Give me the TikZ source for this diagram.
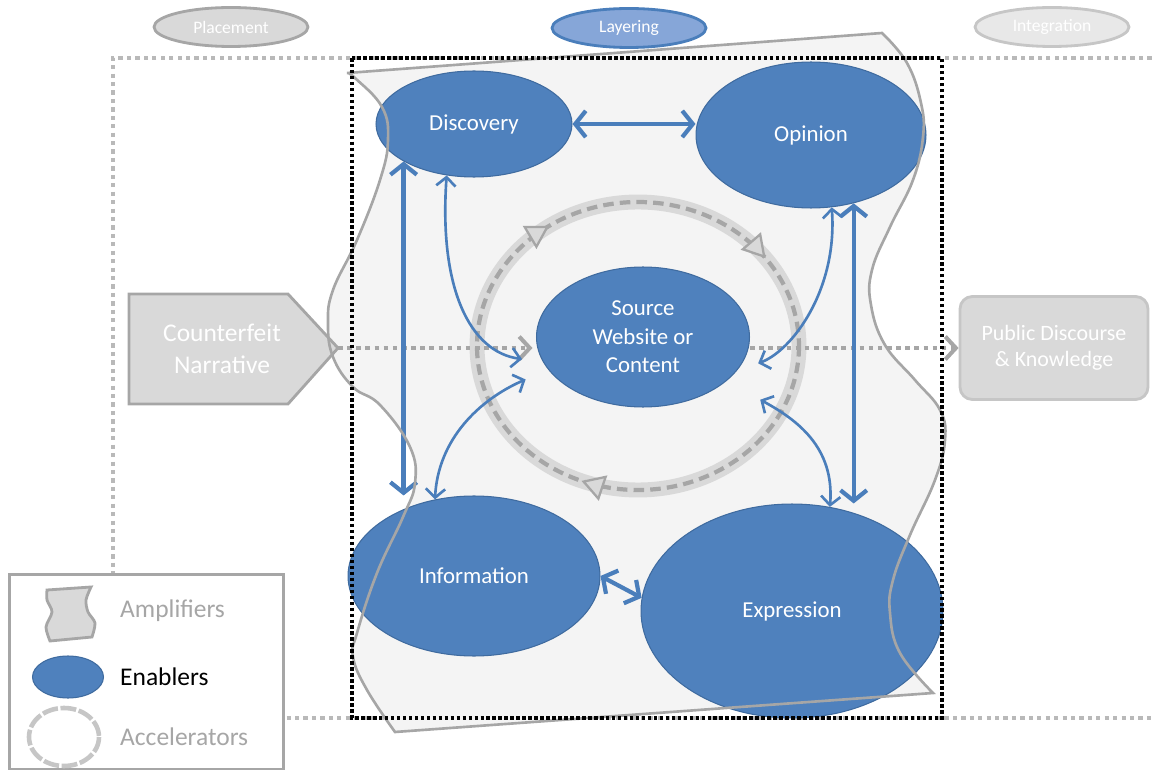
\documentclass[tikz,border=0pt]{standalone}
\usepackage{fontspec}
\setmainfont{Carlito}
\usetikzlibrary{shapes.geometric,arrows.meta,decorations.markings}

\definecolor{enabler}{HTML}{4F81BD}
\definecolor{enablerline}{HTML}{3F6B9F}
\definecolor{arrowblue}{HTML}{4A7EBB}
\definecolor{ampfill}{HTML}{F4F4F4}
\definecolor{ampline}{HTML}{A6A6A6}
\definecolor{boxfill}{HTML}{D9D9D9}
\definecolor{layerfill}{HTML}{86A6D8}

\tikzset{
  enabler/.style={ellipse, draw=enablerline, line width=0.6pt, fill=enabler, text=white,
    font=\fontsize{13}{16.2}\selectfont, align=center, inner sep=0pt},
  stage/.style={ellipse, line width=1.6pt, minimum width=3.08cm, minimum height=0.78cm,
    text=white, font=\fontsize{10}{12}\selectfont, inner sep=0pt},
  bigarrow/.style={draw=arrowblue, line width=2.4pt,
    {Straight Barb[length=6pt,width=15pt]}-{Straight Barb[length=6pt,width=15pt]}},
  thinarrow/.style={draw=arrowblue, line width=1.5pt,
    {Straight Barb[length=5pt,width=11pt]}-{Straight Barb[length=5pt,width=11pt]}},
  flow/.style={draw=ampline, line width=2.3pt, dash pattern=on 2.6pt off 2.6pt,
    -{Straight Barb[length=6pt,width=13pt]}},
  legendtext/.style={anchor=west, font=\fontsize{14.5}{17}\selectfont}
}

\begin{document}
\begin{tikzpicture}[x=0.02cm, y=-0.02cm]
  \useasboundingbox (0,0) rectangle (1154,770);

  \node[stage, fill=boxfill, draw=ampline] (place) at (231,27) {Placement};
  \node[stage, fill=layerfill, draw=arrowblue] (layer) at (629,28) {Layering};
  \node[stage, fill=gray!18, draw=gray!45] (integ) at (1052,27) {Integration};

  \draw[gray!55, line width=2.3pt, dash pattern=on 2.4pt off 2.4pt]
    (1160,58) -- (113,58) -- (113,718) -- (1160,718);

  \fill[ampfill, save path=\amp] (347,73) -- (882,33)
    -- plot[smooth, tension=0.7] coordinates {(882,33) (907,63) (921,103) (923,137) (913,180)
       (890,227) (872,270) (871,305) (885,345) (915,380) (940,410) (945,440) (935,480)
       (910,535) (893,580) (890,613) (900,653) (933,693)}
    -- (395,732)
    -- plot[smooth, tension=0.7] coordinates {(395,732) (367,690) (353,657) (357,633) (377,573)
       (403,517) (415,483) (410,447) (380,405) (353,387) (333,357) (328,323) (333,290)
       (357,240) (380,180) (388,140) (382,107) (355,78) (347,73)}
    -- cycle;

  \draw[fill=boxfill, draw=ampline, line width=1.6pt]
    (129,294) -- (288,294) -- (338,348) -- (288,404) -- (129,404) -- cycle;
  \node[text=white, align=center, font=\fontsize{14.5}{18}\selectfont] (cf) at (222,349)
    {Counterfeit\\Narrative};
  \coordinate (cftip) at (338,348);

  \node[draw=gray!45, fill=boxfill, line width=1.6pt, rounded corners=7pt,
    minimum width=3.76cm, minimum height=2.06cm, text=white, align=center,
    font=\fontsize{12.5}{15}\selectfont] (pub) at (1054,348) {Public Discourse\\\& Knowledge};

  \coordinate (ring) at (638,346);
  \draw[boxfill, line width=8.5pt] (ring) ellipse (161 and 144);
  \draw[ampline, line width=2.4pt, dash pattern=on 6pt off 3.5pt] (ring) ellipse (161 and 144);
  \path[decorate, decoration={markings,
      mark=at position 0.31 with {\arrow[ampline, line width=1.3pt]{Triangle[length=13pt,width=15pt,fill=boxfill]}},
      mark=at position 0.653 with {\arrow[ampline, line width=1.3pt]{Triangle[length=13pt,width=15pt,fill=boxfill]}},
      mark=at position 0.90 with {\arrow[ampline, line width=1.3pt]{Triangle[length=13pt,width=15pt,fill=boxfill]}}}]
    (ring) ellipse (161 and 144);

  \begin{scope}[every node/.style={enabler}]
    \node[minimum width=3.92cm, minimum height=2.12cm] (disc) at (474,124) {Discovery};
    \node[minimum width=4.6cm, minimum height=2.92cm] (opin) at (811,135) {Opinion};
    \node[minimum width=4.26cm, minimum height=2.8cm] (src) at (643,337) {Source\\Website or\\Content};
    \node[minimum width=5.04cm, minimum height=3.2cm] (info) at (474,576) {Information};
    \node[minimum width=6.04cm, minimum height=4.28cm] (expr) at (792,611) {Expression};
  \end{scope}

  \draw[flow, shorten >=2pt] (cftip) -- (cftip -| src.west);
  \draw[flow] (src.east |- pub.west) -- (pub.west);

  \begin{scope}[every edge/.style={draw, bigarrow}]
    \path (disc.east) edge (disc.east -| opin.west);
    \path (disc.208) edge (disc.208 |- info.north);
    \path (opin.302) edge (opin.302 |- expr.north);
    \path (info.east) edge (expr.175);
  \end{scope}

  \draw[thinarrow, shorten >=12pt] (disc.242) .. controls +(-8,113) and +(-73,-10) .. (src.194);
  \draw[thinarrow, shorten >=14pt] (info.117) .. controls +(3,-60) and +(-69,30) .. (src.199);
  \draw[thinarrow, shorten >=13pt] (opin.286) .. controls +(6,83) and +(55,-20) .. (src.340);
  \draw[thinarrow, shorten <=22pt] (src.332) .. controls +(70,38) and +(5,-60) .. (expr.70);

  \draw[ampline, line width=1.5pt, use path=\amp];

  \draw[black, line width=2.1pt, dash pattern=on 2pt off 1.4pt] (352,58) rectangle (942,718);

  \node[draw=ampline, line width=1.6pt, fill=white, anchor=north west,
    minimum width=5.48cm, minimum height=3.9cm] (legend) at (8,573) {};
  \draw[fill=boxfill, draw=ampline, line width=1.6pt] (47,590) -- (91,587)
    -- plot[smooth] coordinates {(91,587) (86,600) (88,612) (95,623) (92,637)}
    -- (50,641)
    -- plot[smooth] coordinates {(50,641) (46,627) (52,612) (47,600) (47,590)} -- cycle;
  \node[legendtext, text=ampline] (amptxt) at (114,611) {Amplifiers};
  \node[ellipse, fill=enabler, draw=enablerline, line width=0.6pt,
    minimum width=1.42cm, minimum height=0.84cm] (enicon) at (68,677) {};
  \node[legendtext, text=black] (entxt) at (114,677) {Enablers};
  \draw[gray!45, line width=2.6pt, dash pattern=on 9pt off 1.5pt] (64,737) ellipse (35 and 29);
  \node[legendtext, text=ampline] (acctxt) at (114,737) {Accelerators};
\end{tikzpicture}
\end{document}
